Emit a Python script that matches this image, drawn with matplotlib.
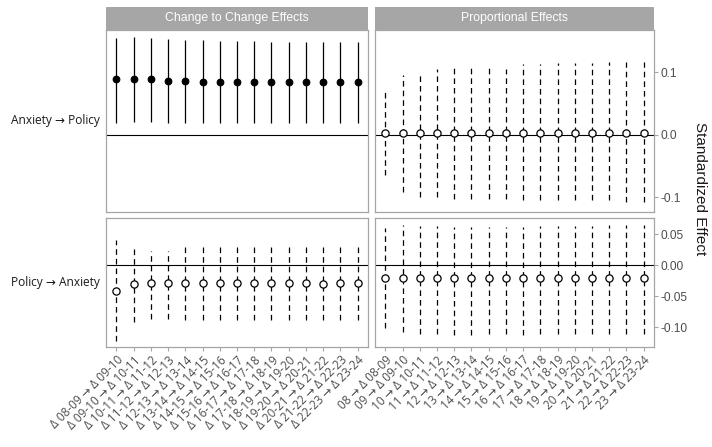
import matplotlib
matplotlib.use("Agg")
import matplotlib.pyplot as plt
import numpy as np

# ---------------- data ----------------
cc_labels = ["Δ 08-09 → Δ 09-10", "Δ 09-10 → Δ 10-11", "Δ 10-11 → Δ 11-12",
             "Δ 11-12 → Δ 12-13", "Δ 12-13 → Δ 13-14", "Δ 13-14 → Δ 14-15",
             "Δ 14-15 → Δ 15-16", "Δ 15-16 → Δ 16-17", "Δ 16-17 → Δ 17-18",
             "Δ 17-18 → Δ 18-19", "Δ 18-19 → Δ 19-20", "Δ 19-20 → Δ 20-21",
             "Δ 20-21 → Δ 21-22", "Δ 21-22 → Δ 22-23", "Δ 22-23 → Δ 23-24"]
prop_labels = ["08 → Δ 08-09", "09 → Δ 09-10", "10 → Δ 10-11", "11 → Δ 11-12",
               "12 → Δ 12-13", "13 → Δ 13-14", "14 → Δ 14-15", "15 → Δ 15-16",
               "16 → Δ 16-17", "17 → Δ 17-18", "18 → Δ 18-19", "19 → Δ 19-20",
               "20 → Δ 20-21", "21 → Δ 21-22", "22 → Δ 22-23", "23 → Δ 23-24"]

col_titles = ["Change to Change Effects", "Proportional Effects"]
row_titles = ["Anxiety → Policy", "Policy → Anxiety"]
y_title = "Standardized Effect"

# Anxiety -> Policy, change to change
ap_cc_est = [0.089, 0.089, 0.089, 0.087, 0.087, 0.085, 0.085, 0.085,
             0.085, 0.085, 0.085, 0.085, 0.085, 0.085, 0.085]
ap_cc_lo = [0.019, 0.021, 0.021, 0.019, 0.019, 0.019, 0.019, 0.019,
            0.019, 0.019, 0.019, 0.019, 0.019, 0.019, 0.019]
ap_cc_hi = [0.155, 0.157, 0.155, 0.153, 0.152, 0.152, 0.151, 0.151,
            0.151, 0.149, 0.149, 0.149, 0.149, 0.149, 0.149]

# Anxiety -> Policy, proportional
ap_pr_est = [0.003, 0.003, 0.003, 0.003, 0.003, 0.003, 0.003, 0.003,
             0.003, 0.003, 0.003, 0.003, 0.003, 0.003, 0.003, 0.003]
ap_pr_lo = [-0.065, -0.092, -0.100, -0.100, -0.102, -0.102, -0.102, -0.102,
            -0.105, -0.105, -0.105, -0.105, -0.105, -0.105, -0.108, -0.108]
ap_pr_hi = [0.069, 0.096, 0.101, 0.106, 0.108, 0.108, 0.108, 0.106,
            0.113, 0.113, 0.115, 0.115, 0.115, 0.117, 0.117, 0.117]

# Policy -> Anxiety, change to change
pa_cc_est = [-0.042, -0.030, -0.028, -0.028, -0.028, -0.028, -0.029, -0.028,
             -0.028, -0.028, -0.028, -0.028, -0.030, -0.029, -0.029]
pa_cc_lo = [-0.122, -0.091, -0.086, -0.086, -0.088, -0.088, -0.088, -0.088,
            -0.088, -0.088, -0.088, -0.088, -0.088, -0.088, -0.088]
pa_cc_hi = [0.040, 0.032, 0.023, 0.023, 0.029, 0.029, 0.029, 0.029,
            0.029, 0.029, 0.029, 0.029, 0.029, 0.029, 0.029]

# Policy -> Anxiety, proportional
pa_pr_est = [-0.020, -0.021, -0.021, -0.021, -0.021, -0.021, -0.021, -0.021,
             -0.021, -0.021, -0.021, -0.021, -0.021, -0.021, -0.021, -0.021]
pa_pr_lo = [-0.101, -0.107, -0.110, -0.110, -0.112, -0.112, -0.110, -0.110,
            -0.112, -0.110, -0.110, -0.110, -0.110, -0.110, -0.110, -0.110]
pa_pr_hi = [0.059, 0.064, 0.063, 0.063, 0.061, 0.061, 0.061, 0.061,
            0.061, 0.063, 0.063, 0.063, 0.063, 0.064, 0.064, 0.064]

row_yticks = [[0.1, 0.0, -0.1], [0.05, 0.0, -0.05, -0.10]]
row_yticklabels = [["0.1", "0.0", "-0.1"], ["0.05", "0.00", "-0.05", "-0.10"]]
row_ylims = [(-0.123, 0.168), (-0.131, 0.0753)]

# ---------------- layout ----------------
W, H = 712, 447
fig = plt.figure(figsize=(W / 100, H / 100), dpi=100)
fig.patch.set_facecolor("white")

sans = ["Liberation Sans", "DejaVu Sans"]
humanist = ["Open Sans", "DejaVu Sans"]
grey_border = "#A6A6A6"
tick_col = "#4D4D4D"

col_x = [(106, 368), (375, 654)]
row_y = [(30, 211.7), (218.3, 346.7)]
strip_y = (7, 30)


def fax(x0, x1, y0, y1):
    return [x0 / W, 1 - y1 / H, (x1 - x0) / W, (y1 - y0) / H]


panels = [[(ap_cc_est, ap_cc_lo, ap_cc_hi), (ap_pr_est, ap_pr_lo, ap_pr_hi)],
          [(pa_cc_est, pa_cc_lo, pa_cc_hi), (pa_pr_est, pa_pr_lo, pa_pr_hi)]]
col_labels = [cc_labels, prop_labels]

for r in range(2):
    for c in range(2):
        ax = fig.add_axes(fax(col_x[c][0], col_x[c][1], row_y[r][0], row_y[r][1]))
        est, lo, hi = [np.array(v) for v in panels[r][c]]
        labels = col_labels[c]
        xs = np.arange(len(labels))
        ax.axhline(0, color="black", lw=0.8, zorder=1)
        sig = (lo > 0) | (hi < 0)
        for i in xs:
            if sig[i]:
                ax.vlines(i, lo[i], hi[i], color="black", lw=0.9, zorder=2)
                ax.plot(i, est[i], marker="o", ms=4.8, mfc="black", mec="black",
                        mew=0.8, zorder=3, ls="none")
            else:
                ax.vlines(i, lo[i], hi[i], color="black", lw=0.9,
                          linestyles=[(0, (4.5, 3.2))], zorder=2)
                ax.plot(i, est[i], marker="o", ms=5.2, mfc="white", mec="black",
                        mew=0.9, zorder=3, ls="none")
        ax.set_xlim(-0.6, len(labels) - 0.4)
        ax.set_ylim(*row_ylims[r])
        for s in ax.spines.values():
            s.set_color(grey_border)
            s.set_linewidth(0.9)
        ax.tick_params(colors=grey_border, length=3, width=0.8)
        # y ticks only on right column
        ax.yaxis.tick_right()
        if c == 1:
            ax.set_yticks(row_yticks[r])
            ax.set_yticklabels(row_yticklabels[r], fontsize=8.6, color=tick_col,
                               family=sans)
            ax.tick_params(axis="y", pad=2)
        else:
            ax.set_yticks([])
        if r == 1:
            ax.set_xticks(xs)
            ax.set_xticklabels(labels, rotation=45, ha="right", va="top",
                               rotation_mode="anchor", fontsize=8.5,
                               color=tick_col, family=humanist)
            ax.tick_params(axis="x", pad=2)
        else:
            ax.set_xticks([])

# strips
for c in range(2):
    sax = fig.add_axes(fax(col_x[c][0], col_x[c][1], strip_y[0], strip_y[1]))
    sax.set_facecolor(grey_border)
    for s in sax.spines.values():
        s.set_visible(False)
    sax.set_xticks([])
    sax.set_yticks([])
    sax.text(0.5, 0.5, col_titles[c], ha="center", va="center", color="white",
             fontsize=8.8, family=sans, transform=sax.transAxes)

# row labels
for r in range(2):
    yc = (row_y[r][0] + row_y[r][1]) / 2
    fig.text(100 / W, 1 - yc / H, row_titles[r], ha="right", va="center",
             fontsize=8.6, color="#1A1A1A", family=humanist)

# y axis title on right
fig.text(700 / W, 1 - 188.5 / H, y_title, rotation=270, ha="center", va="center",
         fontsize=11, color="#1A1A1A", family=sans)

fig.savefig("out.png", dpi=100)
